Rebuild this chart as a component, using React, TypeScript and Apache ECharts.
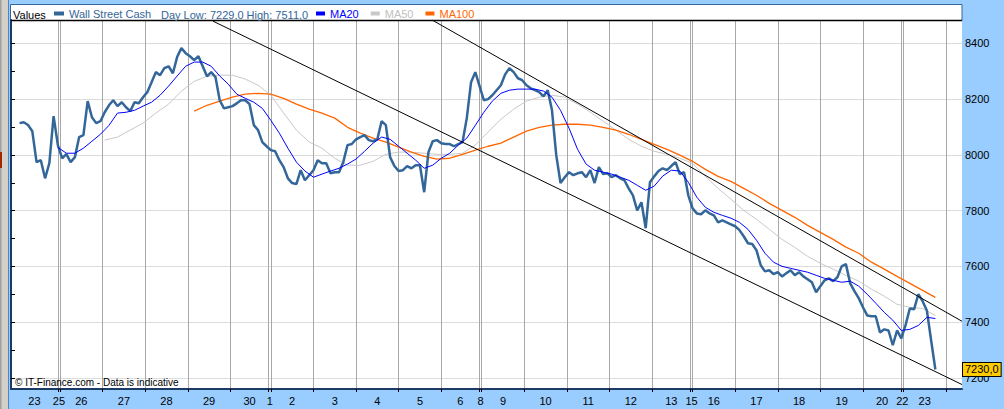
import React, { useEffect, useRef } from 'react';
import * as echarts from 'echarts';

const FONT = '"Liberation Sans", Arial, Helvetica, sans-serif';

// Trading sessions (label + length in hour-like units)
const dayLabels = ['23', '25', '26', '27', '28', '29', '30', '1', '2', '3', '4', '5', '6', '8', '9', '10', '11', '12', '13', '15', '16', '17', '18', '19', '20', '22', '23'];
const dayLengths = [22, 1, 20, 20, 20, 20, 18, 1, 20, 20, 20, 20, 18, 1, 20, 20, 20, 20, 18, 1, 20, 20, 20, 20, 18, 1, 20];
const axisEnd = 446.5;

// Wall Street Cash price, sampled every 2 units from t = 4
const priceStart = 4;
const priceStep = 2;
const price = [
  8114, 8117, 8107, 8085, 7974, 7981, 7916, 7970, 8139, 8035,
  7988, 8003, 7974, 7992, 8064, 8071, 8193, 8135, 8114, 8121,
  8153, 8178, 8196, 8175, 8189, 8171, 8157, 8189, 8185, 8207,
  8225, 8261, 8297, 8286, 8311, 8318, 8293, 8351, 8383, 8365,
  8354, 8340, 8354, 8318, 8282, 8297, 8279, 8196, 8167, 8171,
  8175, 8185, 8196, 8196, 8182, 8107, 8089, 8046, 8031, 8017,
  8013, 7981, 7956, 7916, 7899, 7895, 7945, 7909, 7927, 7945,
  7981, 7970, 7970, 7934, 7938, 7938, 7974, 8035, 8039, 8056,
  8064, 8071, 8053, 8049, 8056, 8121, 8107, 7992, 7960, 7942,
  7945, 7960, 7952, 7963, 7963, 7866, 8010, 8049, 8053, 8042,
  8039, 8039, 8031, 8039, 8046, 8132, 8261, 8297, 8247, 8196,
  8200, 8214, 8232, 8250, 8289, 8311, 8297, 8275, 8268, 8250,
  8239, 8232, 8225, 8210, 8232, 8160, 7999, 7899, 7920, 7938,
  7927, 7934, 7938, 7920, 7945, 7899, 7956, 7931, 7934, 7920,
  7927, 7916, 7909, 7880, 7855, 7801, 7830, 7737, 7902, 7923,
  7942, 7952, 7945, 7960, 7974, 7931, 7938, 7855, 7808, 7790,
  7787, 7801, 7790, 7783, 7758, 7765, 7758, 7751, 7744, 7730,
  7708, 7683, 7680, 7658, 7604, 7582, 7586, 7572, 7579, 7564,
  7575, 7586, 7568, 7579, 7564, 7554, 7543, 7507, 7529, 7550,
  7557, 7547, 7561, 7600, 7608, 7539, 7511, 7486, 7453, 7424,
  7421, 7421, 7363, 7374, 7370, 7317, 7370, 7342, 7389, 7449,
  7446, 7500, 7475, 7442, 7335, 7230,
];

// MA20, sampled every 4 units from t = 22
const ma20Start = 22;
const ma20Step = 4;
const ma20 = [
  8027, 8006, 8006, 8024, 8049, 8074, 8106, 8150, 8153, 8160,
  8175, 8189, 8214, 8247, 8283, 8318, 8333, 8333, 8318, 8283,
  8254, 8218, 8203, 8189, 8167, 8124, 8078, 8024, 7974, 7942,
  7920, 7931, 7942, 7952, 7967, 7985, 8013, 8042, 8064, 8056,
  8031, 8006, 7981, 7952, 7963, 7988, 8006, 8035, 8060, 8106,
  8153, 8193, 8221, 8232, 8236, 8236, 8236, 8229, 8207, 8160,
  8096, 8020, 7967, 7945, 7938, 7931, 7920, 7909, 7891, 7873,
  7888, 7924, 7945, 7942, 7902, 7848, 7812, 7794, 7783, 7773,
  7758, 7733, 7694, 7647, 7615, 7600, 7593, 7586, 7579, 7568,
  7557, 7550, 7543, 7547, 7529, 7500, 7468, 7435, 7407, 7370,
  7374, 7388, 7417, 7413,
];

// MA50, sampled every 6 units from t = 44
const ma50Start = 44;
const ma50Step = 6;
const ma50 = [
  8053, 8064, 8089, 8114, 8150, 8182, 8229, 8264, 8282, 8286,
  8286, 8272, 8250, 8214, 8150, 8089, 8046, 8024, 7988, 7963,
  7963, 7977, 8002, 8010, 8010, 8006, 8002, 8002, 8006, 8035,
  8082, 8128, 8164, 8193, 8207, 8214, 8207, 8182, 8153, 8121,
  8089, 8056, 8031, 8013, 8002, 7988, 7970, 7923, 7880, 7841,
  7801, 7769, 7733, 7697, 7668, 7636, 7611, 7590, 7568, 7547,
  7518, 7493, 7464, 7453, 7449, 7424,
];

// MA100, sampled every 6 units from t = 86
const ma100Start = 86;
const ma100Step = 6;
const ma100 = [
  8157, 8178, 8193, 8207, 8218, 8221, 8218, 8203, 8182, 8164,
  8150, 8132, 8099, 8078, 8060, 8046, 8028, 8010, 7995, 7985,
  7988, 8002, 8017, 8031, 8042, 8064, 8085, 8099, 8107, 8110,
  8110, 8107, 8099, 8089, 8074, 8056, 8038, 8020, 7999, 7977,
  7948, 7923, 7905, 7880, 7855, 7826, 7801, 7776, 7747, 7722,
  7697, 7669, 7647, 7615, 7590, 7564, 7539, 7514, 7489,
];

// Trend channel (time, value) anchors
const channelLower = [[94.8, 8480], [446.5, 7176]];
const channelUpper = [[197.7, 8484], [446.5, 7403]];

const yMin = 7160;
const yMax = 8484;
const yTickValues = [7200, 7300, 7400, 7500, 7600, 7700, 7800, 7900, 8000, 8100, 8200, 8300, 8400];
const yLabelValues = [7200, 7400, 7600, 7800, 8000, 8200, 8400];

const lastPrice = 7230;
const dayLow = 7229;
const dayHigh = 7511;

const fmt = (v: number) => v.toFixed(1).replace('.', ',');
const toSeries = (arr: number[], start: number, step: number) => arr.map((v, i) => [start + i * step, v]);

export default function App() {
  const ref = useRef<HTMLDivElement>(null);

  useEffect(() => {
    if (!ref.current) return;
    const chart = echarts.init(ref.current, null, { renderer: 'svg' });

    const bounds: number[] = [];
    const centers: number[] = [];
    let acc = 0;
    dayLengths.forEach((len) => {
      centers.push(acc + len / 2);
      acc += len;
      bounds.push(acc);
    });
    const labelFor = (v: number) => {
      let best = 0;
      centers.forEach((c, i) => {
        if (Math.abs(c - v) < Math.abs(centers[best] - v)) best = i;
      });
      return dayLabels[best];
    };

    const option: any = {
      animation: false,
      backgroundColor: '#99ccff',
      textStyle: { fontFamily: FONT },
      grid: {
        left: 11, right: 42, top: 20, bottom: 20,
        show: true, backgroundColor: '#ffffff', borderWidth: 0,
        outerBoundsMode: 'none',
      },
      legend: [
        {
          data: [{ name: 'Wall Street Cash', textStyle: { color: '#336699' } }],
          left: 54, top: 8, padding: 0,
          icon: 'rect', itemWidth: 10, itemHeight: 4,
          selectedMode: false,
          textStyle: { fontSize: 11, fontFamily: FONT },
        },
        {
          data: [
            { name: 'MA20', textStyle: { color: '#0000ff' } },
            { name: 'MA50', textStyle: { color: '#c0c0c0' } },
            { name: 'MA100', textStyle: { color: '#ff6600' } },
          ],
          left: 316, top: 8, padding: 0,
          icon: 'rect', itemWidth: 9, itemHeight: 4, itemGap: 12,
          selectedMode: false,
          textStyle: { fontSize: 11, fontFamily: FONT },
        },
      ],
      xAxis: {
        type: 'value', min: 0, max: axisEnd,
        axisLine: { show: true, onZero: false, lineStyle: { color: '#1c3a66', width: 2 } },
        axisTick: { show: true, customValues: bounds, length: 3, lineStyle: { color: '#000' } },
        axisLabel: {
          customValues: centers, formatter: labelFor, margin: 6,
          color: '#000', fontSize: 11, fontFamily: FONT,
        },
        splitLine: { show: true, lineStyle: { color: '#a8a8a8', width: 1 } },
      },
      yAxis: [
        {
          type: 'value', position: 'right', min: yMin, max: yMax,
          axisLine: { show: true, lineStyle: { color: '#1c3a66', width: 2 } },
          axisTick: { show: true, customValues: yTickValues, length: 4, lineStyle: { color: '#000' } },
          axisLabel: {
            customValues: yLabelValues, margin: 3, color: '#000',
            fontSize: 11, fontFamily: FONT, formatter: (v: number) => String(v),
          },
          splitLine: { show: false },
        },
        {
          type: 'value', position: 'left', min: yMin, max: yMax,
          axisLine: { show: false },
          axisTick: { show: false, customValues: yLabelValues },
          axisLabel: { show: false, customValues: yLabelValues },
          splitLine: { show: true, lineStyle: { color: '#dcdcdc', width: 1 } },
        },
      ],
      series: [
        {
          name: 'MA50', type: 'line', yAxisIndex: 0,
          data: toSeries(ma50, ma50Start, ma50Step),
          showSymbol: false, symbol: 'none',
          lineStyle: { color: '#c8c8c8', width: 1 }, itemStyle: { color: '#c8c8c8' },
        },
        {
          name: 'MA100', type: 'line', yAxisIndex: 0,
          data: toSeries(ma100, ma100Start, ma100Step),
          showSymbol: false, symbol: 'none',
          lineStyle: { color: '#ff6600', width: 1.3 }, itemStyle: { color: '#ff6600' },
        },
        {
          name: 'Wall Street Cash', type: 'line', yAxisIndex: 0,
          data: toSeries(price, priceStart, priceStep),
          showSymbol: false, symbol: 'none',
          lineStyle: { color: '#336699', width: 2.5 }, itemStyle: { color: '#336699' },
          markLine: {
            silent: true, symbol: ['none', 'none'],
            lineStyle: { color: 'rgba(0,0,0,0)', width: 0 },
            data: [{ yAxis: lastPrice }],
            label: {
              show: true, position: 'end', distance: 1,
              formatter: () => fmt(lastPrice),
              color: '#000', fontSize: 11, fontFamily: FONT,
              backgroundColor: '#ffcc00', borderColor: '#000', borderWidth: 1,
              padding: [1, 2, 0, 2], lineHeight: 12,
            },
          },
        },
        {
          name: 'MA20', type: 'line', yAxisIndex: 0,
          data: toSeries(ma20, ma20Start, ma20Step),
          showSymbol: false, symbol: 'none',
          lineStyle: { color: '#0000ff', width: 1 }, itemStyle: { color: '#0000ff' },
        },
        {
          name: 'Channel low', type: 'line', yAxisIndex: 0,
          data: channelLower, showSymbol: false, symbol: 'none',
          lineStyle: { color: '#000', width: 1 },
        },
        {
          name: 'Channel high', type: 'line', yAxisIndex: 0,
          data: channelUpper, showSymbol: false, symbol: 'none',
          lineStyle: { color: '#000', width: 1 },
        },
      ],
      graphic: [
        { type: 'rect', silent: true, shape: { x: 0, y: 0, width: 8, height: 409 }, style: { fill: '#d4d0c8' } },
        { type: 'rect', silent: true, shape: { x: 0, y: 0, width: 1.5, height: 409 }, style: { fill: '#a0a0a0' } },
        { type: 'rect', silent: true, shape: { x: 0, y: 152, width: 2, height: 16 }, style: { fill: '#a02800' } },
        { type: 'line', silent: true, shape: { x1: 8.5, y1: 0, x2: 8.5, y2: 409 }, style: { stroke: '#4f86c0', lineWidth: 1 } },
        { type: 'rect', silent: true, shape: { x: 10.5, y: 4.5, width: 951.5, height: 16 }, style: { fill: '#ffffff', stroke: '#336699', lineWidth: 1 } },
        { type: 'line', silent: true, shape: { x1: 10.5, y1: 20, x2: 10.5, y2: 389 }, style: { stroke: '#336699', lineWidth: 1 } },
        { type: 'line', silent: true, z: 50, shape: { x1: 11, y1: 20.5, x2: 962, y2: 20.5 }, style: { stroke: '#000', lineWidth: 1.5 } },
        {
          type: 'text', silent: true, z: 50, x: 13, y: 14.5,
          style: { text: 'Values', fill: '#000', font: `11px ${FONT}`, textAlign: 'left', textVerticalAlign: 'middle' },
        },
        {
          type: 'text', silent: true, z: 50, x: 161, y: 14.5,
          style: {
            text: `Day Low: ${fmt(dayLow)} High: ${fmt(dayHigh)}`,
            fill: '#336699', font: `11px ${FONT}`, textAlign: 'left', textVerticalAlign: 'middle',
          },
        },
        {
          type: 'text', silent: true, z: 100, x: 15, y: 382.5,
          style: {
            text: '\u00A9 IT-Finance.com - Data is indicative',
            fill: '#000', font: `10px ${FONT}`, textAlign: 'left', textVerticalAlign: 'middle',
          },
        },
      ],
    };

    chart.setOption(option);
    return () => chart.dispose();
  }, []);

  return (
    <div
      ref={ref}
      style={{ position: 'absolute', left: 0, top: 0, width: 1004, height: 409 }}
    />
  );
}
